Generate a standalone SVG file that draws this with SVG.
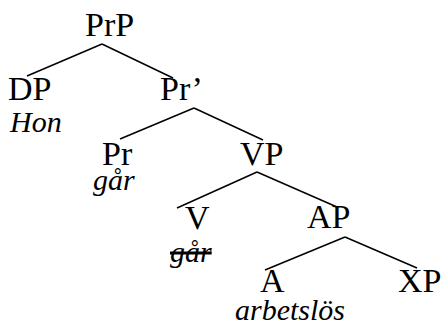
<svg xmlns="http://www.w3.org/2000/svg" width="446" height="329" viewBox="0 0 446 329">
<style>
.l{font-family:"Liberation Serif","Times New Roman",serif;font-size:34px;fill:#000}
.w{font-family:"Liberation Serif","Times New Roman",serif;font-size:30px;font-style:italic;fill:#000}
.c line{stroke:#000;stroke-width:1.5}
</style>
<rect width="446" height="329" fill="#fff"/>
<g class="c" id="connectors">
<line x1="102" y1="44" x2="27" y2="76"/>
<line x1="102" y1="44" x2="173" y2="78"/>
<line x1="194" y1="108" x2="120" y2="139"/>
<line x1="194" y1="108" x2="263" y2="140"/>
<line x1="257" y1="172" x2="177" y2="208"/>
<line x1="257" y1="172" x2="337" y2="207"/>
<line x1="345" y1="237" x2="265" y2="270"/>
<line x1="345" y1="237" x2="417" y2="268"/>
</g>
<g id="PrP"><text class="l" x="85" y="36">PrP</text></g>
<g id="DP"><text class="l" x="8" y="100">DP</text><text class="w" x="10" y="132">Hon</text></g>
<g id="Prbar"><text class="l" x="160" y="100">Pr’</text></g>
<g id="Pr"><text class="l" x="102" y="165">Pr</text><text class="w" x="93" y="190">går</text></g>
<g id="VP"><text class="l" x="240" y="165">VP</text></g>
<g id="V"><text class="l" x="185" y="229">V</text><text class="w" x="170" y="262" text-decoration="line-through">går</text></g>
<g id="AP"><text class="l" x="307" y="228">AP</text></g>
<g id="A"><text class="l" x="260" y="292">A</text><text class="w" x="235" y="320">arbetslös</text></g>
<g id="XP"><text class="l" x="398" y="292">XP</text></g>
</svg>
